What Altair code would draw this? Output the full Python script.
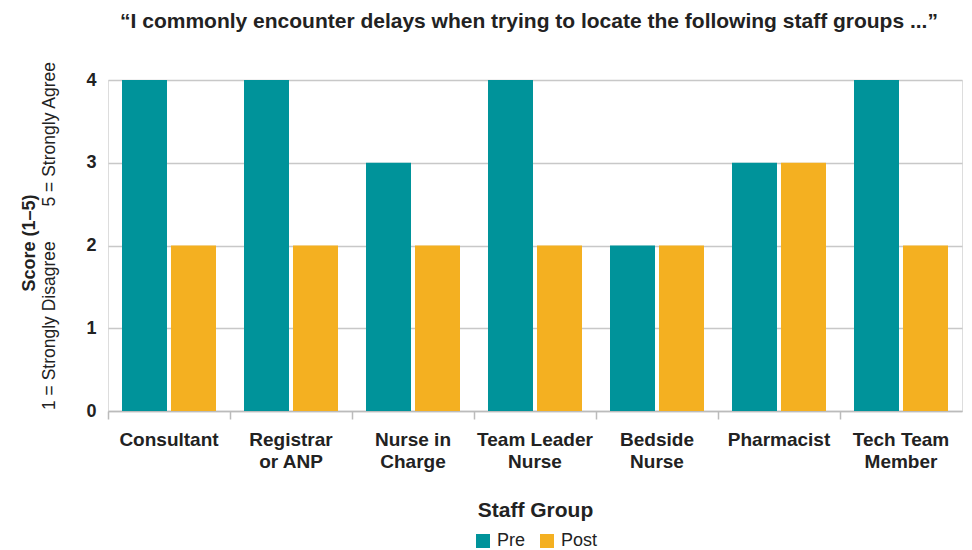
import altair as alt
import pandas as pd

categories = ["Consultant", "Registrar\nor ANP", "Nurse in\nCharge", "Team Leader\nNurse",
              "Bedside\nNurse", "Pharmacist", "Tech Team\nMember"]
pre_scores = [4, 4, 3, 4, 2, 3, 4]
post_scores = [2, 2, 2, 2, 2, 3, 2]
series = ["Pre", "Post"]
colors = ["#00939a", "#f4b021"]

title_text = "\u201cI commonly encounter delays when trying to locate the following staff groups ...\u201d"
y_title = "Score (1\u20135)"
y_sub_low = "1 = Strongly Disagree"
y_sub_high = "5 = Strongly Agree"
x_title = "Staff Group"

rows = []
for c, a, b in zip(categories, pre_scores, post_scores):
    rows.append({"group": c, "period": "Pre", "score": a})
    rows.append({"group": c, "period": "Post", "score": b})
df = pd.DataFrame(rows)

FONT = "Liberation Sans"
TXT = "#222222"

bars = alt.Chart(df).mark_bar().encode(
    x=alt.X("group:N", sort=categories,
            scale=alt.Scale(paddingInner=0, paddingOuter=0),
            axis=alt.Axis(title=x_title, labelAngle=0,
                          labelExpr="split(datum.label, '\\n')",
                          labelFont=FONT, labelFontSize=19, labelFontWeight="bold",
                          labelColor=TXT, labelLineHeight=22, labelPadding=11,
                          labelBaseline="top",
                          ticks=True, tickSize=8, tickColor="#bbbbbb", tickWidth=1.5,
                          bandPosition=0,
                          domainColor="#bbbbbb", domainWidth=1.5,
                          titleFont=FONT, titleFontSize=21, titleFontWeight="bold",
                          titleColor=TXT, titlePadding=28, grid=False)),
    xOffset=alt.XOffset("period:N", sort=series,
                        scale=alt.Scale(paddingInner=0.0816, paddingOuter=0.2857)),
    y=alt.Y("score:Q", scale=alt.Scale(domain=[0, 4], nice=False),
            axis=alt.Axis(title=None, values=[0, 1, 2, 3, 4], format="d",
                          labelFont=FONT, labelFontSize=18, labelFontWeight="bold",
                          labelColor=TXT, labelPadding=12, ticks=False, domain=False,
                          grid=True, gridColor="#c8c8c8", gridWidth=1.5)),
    color=alt.Color("period:N", sort=series,
                    scale=alt.Scale(domain=series, range=colors),
                    legend=alt.Legend(title=None, orient="none", direction="horizontal",
                                      legendX=366, legendY=452,
                                      symbolType="square", symbolSize=196,
                                      symbolStrokeWidth=0,
                                      labelFont=FONT, labelFontSize=18, labelColor=TXT,
                                      labelOffset=5, columnPadding=12, padding=0)),
)

title_df = pd.DataFrame({"t": [title_text]})
title_mark = alt.Chart(title_df).mark_text(
    font=FONT, fontSize=21, fontWeight="bold", color=TXT, baseline="middle", align="center"
).encode(text="t:N", x=alt.value(421), y=alt.value(-58))

ytitle_df = pd.DataFrame({"t": [y_title]})
ytitle_mark = alt.Chart(ytitle_df).mark_text(
    font=FONT, fontSize=18, fontWeight="bold", color=TXT, baseline="middle",
    align="center", angle=270
).encode(text="t:N", x=alt.value(-78), y=alt.value(163))

low_df = pd.DataFrame({"t": [y_sub_low]})
low_mark = alt.Chart(low_df).mark_text(
    font=FONT, fontSize=17.5, color=TXT, baseline="middle", align="left", angle=270
).encode(text="t:N", x=alt.value(-58), y=alt.value(330))

high_df = pd.DataFrame({"t": [y_sub_high]})
high_mark = alt.Chart(high_df).mark_text(
    font=FONT, fontSize=17.5, color=TXT, baseline="middle", align="right", angle=270
).encode(text="t:N", x=alt.value(-58), y=alt.value(-18))

chart = alt.layer(bars, title_mark, ytitle_mark, low_mark, high_mark).properties(
    width=854, height=331,
    autosize=alt.AutoSizeParams(type="none"),
    padding={"left": 100, "top": 72, "right": 2, "bottom": 138},
).configure_view(stroke=None).configure(background="white")

chart.save("out.html", embed_options={"renderer": "svg", "actions": False})
